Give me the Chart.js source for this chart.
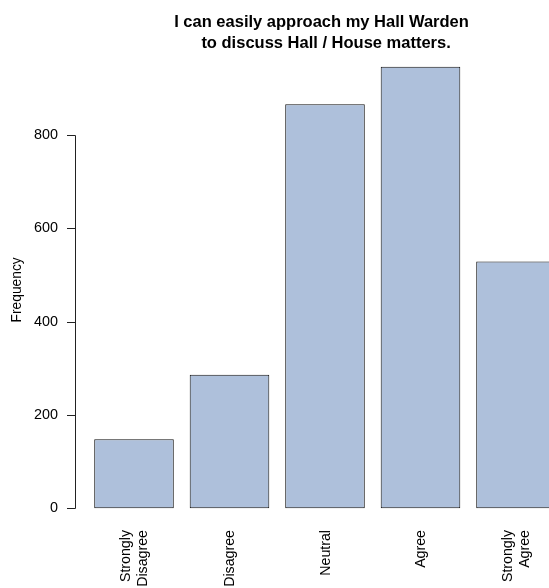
<!DOCTYPE html>
<html>
<head>
<meta charset="utf-8">
<title>Hall Warden survey</title>
<script src="https://cdn.jsdelivr.net/npm/chart.js@4/dist/chart.umd.min.js"></script>
<style>
  html, body { margin: 0; padding: 0; overflow: hidden; background: #fff; }
  #wrap { width: 549px; height: 588px; overflow: hidden; }
</style>
</head>
<body>
<div id="wrap"><canvas id="chart" width="643" height="588"></canvas></div>
<script>
// ---- data ----
const categories = [['Strongly', 'Disagree'], 'Disagree', 'Neutral', 'Agree', ['Strongly', 'Agree']];
const frequencies = [148, 286, 866, 946, 529];
const yTicks = [0, 200, 400, 600, 800];
const titleLines = ['I can easily approach my Hall Warden', '  to discuss Hall / House matters.'];

const FONT = "'Liberation Sans', Arial, Helvetica, sans-serif";

// R style axes: y axis line only over the tick range, rotated x labels centred on each bar
const rAxes = {
    id: 'rAxes',
    afterDraw(chart) {
        const { ctx, chartArea, scales } = chart;
        const y = scales.y;
        const x = scales.x;
        const axisX = chartArea.left - 10.75;

        ctx.save();
        ctx.strokeStyle = '#222';
        ctx.lineWidth = 1;
        ctx.beginPath();
        ctx.moveTo(axisX, Math.round(y.getPixelForValue(yTicks[0])) + 0.5);
        ctx.lineTo(axisX, Math.round(y.getPixelForValue(yTicks[yTicks.length - 1])) + 0.5);
        yTicks.forEach(v => {
            const py = Math.round(y.getPixelForValue(v)) + 0.5;
            ctx.moveTo(axisX - 8.5, py);
            ctx.lineTo(axisX, py);
        });
        ctx.stroke();

        // category labels, rotated 90 degrees
        const size = 14.2;
        const lh = size * 1.2;
        ctx.fillStyle = '#000';
        ctx.font = size + 'px ' + FONT;
        ctx.textAlign = 'right';
        ctx.textBaseline = 'middle';
        categories.forEach((label, i) => {
            const lines = Array.isArray(label) ? label : [label];
            const px = x.getPixelForTick(i);
            lines.forEach((line, j) => {
                const cx = px + (j - (lines.length - 1) / 2) * lh + 1;
                ctx.save();
                ctx.translate(cx, chartArea.bottom + 4);
                ctx.rotate(-Math.PI / 2);
                ctx.fillText(line, 0, 0);
                ctx.restore();
            });
        });
        ctx.restore();
    }
};

new Chart(document.getElementById('chart'), {
    type: 'bar',
    data: {
        labels: categories,
        datasets: [{
            label: 'Frequency',
            data: frequencies,
            backgroundColor: '#AEC0DB',
            borderColor: '#111',
            borderWidth: 1,
            borderSkipped: false,
            barPercentage: 1 / 1.2,
            categoryPercentage: 1
        }]
    },
    options: {
        responsive: false,
        animation: false,
        devicePixelRatio: 1,
        layout: { padding: 0 },
        plugins: {
            legend: { display: false },
            tooltip: { enabled: false },
            title: {
                display: true,
                text: titleLines,
                color: '#000',
                font: { family: FONT, size: 16.5, weight: 'bold', lineHeight: 1.25 },
                padding: { top: 12.5, bottom: 0 }
            }
        },
        scales: {
            x: {
                grid: { display: false, drawTicks: false },
                border: { display: false },
                ticks: { display: false },
                afterFit(scale) { scale.height = 62; }
            },
            y: {
                min: -37.9,
                max: 974.0,
                grid: { display: false, drawTicks: false },
                border: { display: false },
                afterBuildTicks(scale) {
                    scale.ticks = yTicks.map(v => ({ value: v }));
                },
                ticks: {
                    color: '#000',
                    padding: 28.25,
                    font: { family: FONT, size: 14.4 }
                },
                title: {
                    display: true,
                    text: 'Frequency',
                    color: '#000',
                    font: { family: FONT, size: 13.8 },
                    padding: { top: 8.5, bottom: 0 }
                },
                afterFit(scale) { scale.width = 86.25; }
            },
            yRight: {
                position: 'right',
                display: true,
                grid: { display: false, drawTicks: false },
                border: { display: false },
                ticks: { display: false },
                afterFit(scale) { scale.width = 79.25; }
            }
        }
    },
    plugins: [rAxes]
});
</script>
</body>
</html>
